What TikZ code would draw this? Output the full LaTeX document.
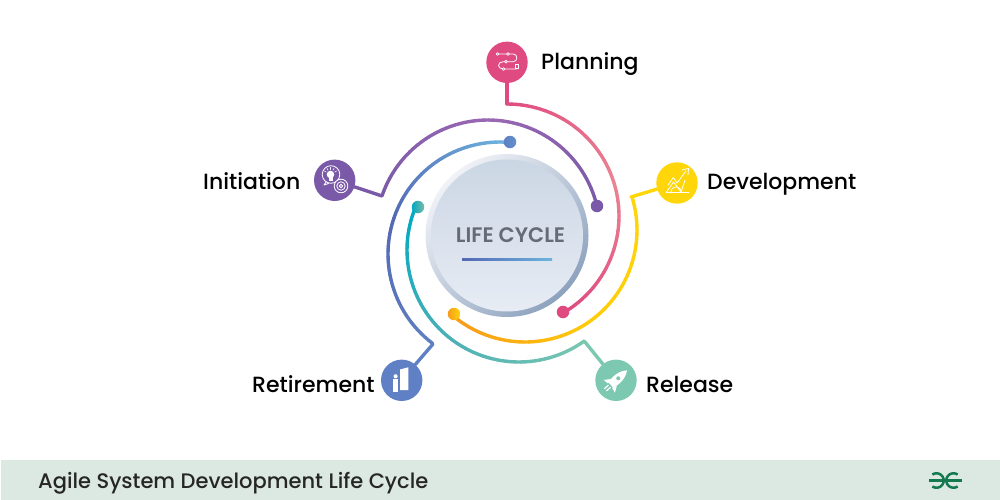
\documentclass[tikz,border=0pt]{standalone}
\usepackage{fontspec}
\setmainfont{Poppins Medium}[BoldFont=Poppins SemiBold]
\usetikzlibrary{positioning,calc}

\definecolor{pinkA}{HTML}{DF4A80}
\definecolor{pinkB}{HTML}{EB8492}
\definecolor{purpleA}{HTML}{7A5AA8}
\definecolor{purpleB}{HTML}{9A68B2}
\definecolor{blueA}{HTML}{5F80C4}
\definecolor{blueB}{HTML}{5468B4}
\definecolor{blueC}{HTML}{6DB4DE}
\definecolor{yellowA}{HTML}{FFD60A}
\definecolor{yellowB}{HTML}{FFCC08}
\definecolor{orangeA}{HTML}{F79A1C}
\definecolor{tealA}{HTML}{7CC8B0}
\definecolor{tealB}{HTML}{4DB0B6}
\definecolor{tealC}{HTML}{00A9C2}
\definecolor{footbar}{HTML}{DCE8E2}
\definecolor{logogreen}{HTML}{14794F}
\definecolor{hubgray}{HTML}{666B78}
\definecolor{rimlight}{HTML}{F0F2F7}
\definecolor{rimdark}{HTML}{8DA2BE}
\definecolor{hubtop}{HTML}{CBD6E4}
\definecolor{hubbottom}{HTML}{E7ECF4}

\tikzset{
  arcline/.style={line width=3.4pt,line cap=round},
  icondisc/.style={circle,fill=#1,minimum size=41.4pt,inner sep=0pt},
  enddot/.style 2 args={circle,left color=#1,right color=#2,minimum size=12.5pt,inner sep=0pt},
  stagelabel/.style={anchor=base west,inner sep=0pt,font=\fontsize{22}{26}\selectfont,text=black},
  iconline/.style={draw=white,line width=0.8pt,line cap=round,line join=round},
  logoline/.style={draw=logogreen,line width=2.5pt},
}

% centre x, centre y, radius, from angle, to angle, three colours
\newcommand{\gradarc}[8]{
  \foreach \k in {1,...,60}{
    \pgfmathsetmacro{\ta}{#4+(#5-#4)*(\k-1)/60}
    \pgfmathsetmacro{\tb}{#4+(#5-#4)*\k/60}
    \pgfmathsetmacro{\mixp}{\k<=30 ? 100*\k/30 : 100*(\k-30)/30}
    \ifnum\k<31 \def\mixc{#7!\mixp!#6}\else \def\mixc{#8!\mixp!#7}\fi
    \draw[arcline,draw=\mixc] ({#1+#3*cos(\ta)},{#2+#3*sin(\ta)}) -- ({#1+#3*cos(\tb)},{#2+#3*sin(\tb)});
  }
}

\begin{document}
\begin{tikzpicture}[x=1pt,y=-1pt]
\useasboundingbox (0,0) rectangle (1000,500);

% footer
\fill[footbar] (1,460) rectangle (1000,500);
\node[anchor=base west,inner sep=0pt,font=\fontsize{21}{25}\selectfont,text=black!85] (foottext) at (38,488) {Agile System Development Life Cycle};
\draw[logoline] plot[domain=-125:125,samples=30] ({936.5+7.2*cos(\x)},{480.5+7.2*sin(\x)});
\draw[logoline] plot[domain=55:305,samples=30] ({953.5+7.2*cos(\x)},{480.5+7.2*sin(\x)});
\draw[logoline] (928.5,480.5) -- (961.5,480.5);

% hub
\shade[top color=rimlight,bottom color=rimdark,shading angle=45] (507,235.5) circle[radius=81.5];
\shade[top color=hubtop,bottom color=hubbottom] (507,235.5) circle[radius=76];
\node[inner sep=0pt,font=\fontsize{21}{24}\selectfont\bfseries,text=hubgray] (hubtext) at (510.5,235) {LIFE CYCLE};
\shade[left color=blueB,right color=blueC] (462,258) rectangle (552,260);

% stage icons
\node[icondisc=pinkA] (planning) at (507,62.3) {};
\node[icondisc=yellowA] (development) at (677,183) {};
\node[icondisc=tealA] (release) at (616,380.3) {};
\node[icondisc=blueA] (retirement) at (401.7,380.3) {};
\node[icondisc=purpleA] (initiation) at (334.7,180.3) {};

% labels
\node[stagelabel] (planninglabel) at (541,69.3) {Planning};
\node[stagelabel] (developmentlabel) at (707,189) {Development};
\node[stagelabel] (releaselabel) at (646,392) {Release};
\node[stagelabel] (retirementlabel) at (252,392) {Retirement};
\node[stagelabel] (initiationlabel) at (203,189) {Initiation};

% elbows
\coordinate (planningbend) at (507,104);
\coordinate (developmentbend) at (631,197);
\coordinate (releasebend) at (585,342);
\coordinate (retirementbend) at (433,344);
\coordinate (initiationbend) at (382,196);

\draw[arcline,pinkA] (planning) -- (planningbend);
\draw[arcline,yellowA] (development) -- (developmentbend);
\draw[arcline,tealA] (release) -- (releasebend);
\draw[arcline,blueA] (retirement) -- (retirementbend);
\draw[arcline,purpleA] (initiation) -- (initiationbend);

% arcs
\gradarc{488}{232}{112}{-161}{-13.4}{purpleA}{purpleB}{purpleA}
\gradarc{500}{254}{112}{-233}{-85}{blueA}{blueB}{blueC}
\gradarc{507}{216}{112}{-90}{60}{pinkA}{pinkB}{pinkA}
\gradarc{525}{230}{112}{-17.3}{130}{yellowA}{yellowB}{orangeA}
\gradarc{519}{250}{112}{54.3}{203}{tealA}{tealB}{tealC}

% arc ends
\node[enddot={purpleA}{purpleA}] (purpleend) at (597,206) {};
\node[enddot={blueA}{blueA!70!blueC}] (blueend) at (510,142) {};
\node[enddot={pinkA}{pinkA}] (pinkend) at (563,312) {};
\node[enddot={orangeA}{yellowA}] (orangeend) at (454,314) {};
\node[enddot={tealC}{tealA!80!gray}] (tealend) at (418,207) {};

% planning icon
\draw[iconline] (497.5,54) -- (513.3,54) .. controls (518,54) and (518,61.7) .. (513.3,61.7) -- (503.3,61.7) .. controls (497,61.7) and (497,69) .. (503.3,69) -- (516.5,69);
\foreach \px/\py in {497.5/54,508/54,506/61.7,503.5/69}
  \filldraw[iconline,fill=pinkA] (\px,\py) circle[radius=1.4];
\draw[iconline] (515,64.5) rectangle (518,68);

% development icon
\draw[iconline] (668,185) -- (673.3,177.5) -- (677,183) -- (686,171);
\draw[iconline] (682,170) -- (688.5,168.5) -- (688,175);
\draw[iconline] (666,192) -- (689,192);
\draw[iconline] (666.5,192) -- (673.5,182) -- (681,192);
\draw[iconline] plot[domain=180:360,samples=12] ({676+5*cos(\x)},{192+5*sin(\x)});
\draw[iconline] (681,192) -- (685,180);

% release icon
\begin{scope}[shift={(release.center)},rotate=42]
\fill[white] (-7,-3.6) .. controls (2,-6) and (10,-4) .. (15,0) .. controls (10,4) and (2,6) .. (-7,3.6) -- cycle;
\fill[tealA] (3,0) circle[radius=2];
\fill[white] (-3,-4.5) -- (-9,-8.5) -- (-8,-3) -- cycle;
\fill[white] (-3,4.5) -- (-9,8.5) -- (-8,3) -- cycle;
\draw[iconline,line width=1.2pt] (-9,-1.5) -- (-14,-1.5);
\draw[iconline,line width=1.2pt] (-9,1.5) -- (-14,1.5);
\end{scope}

% retirement icon
\fill[white] (400,369.5) -- (408.3,367.3) -- (408.3,390) -- (400,390) -- cycle;
\fill[white] (393,379) -- (398.3,379) -- (398.3,391.7) -- (393,391.7) -- cycle;
\fill[white] (395.6,376.3) circle[radius=2.1];

% initiation icon
\draw[iconline] (326,182) -- (324,185) -- (328.5,183.5);
\draw[iconline] (331,174.5) circle[radius=8.8];
\fill[white] (330.5,174.5) circle[radius=3.8];
\fill[white] (328.5,177) rectangle (332.5,181);
\foreach \rayang in {-150,-120,-90,-60,-30}
  \draw[iconline,line width=0.6pt] ($(330.5,174.5)+(\rayang:5)$) -- ($(330.5,174.5)+(\rayang:7)$);
\filldraw[iconline,fill=purpleA] (341,186) circle[radius=6.8];
\draw[iconline] (341,186) circle[radius=4.2];
\draw[iconline] (341,186) circle[radius=1.8];
\end{tikzpicture}
\end{document}
